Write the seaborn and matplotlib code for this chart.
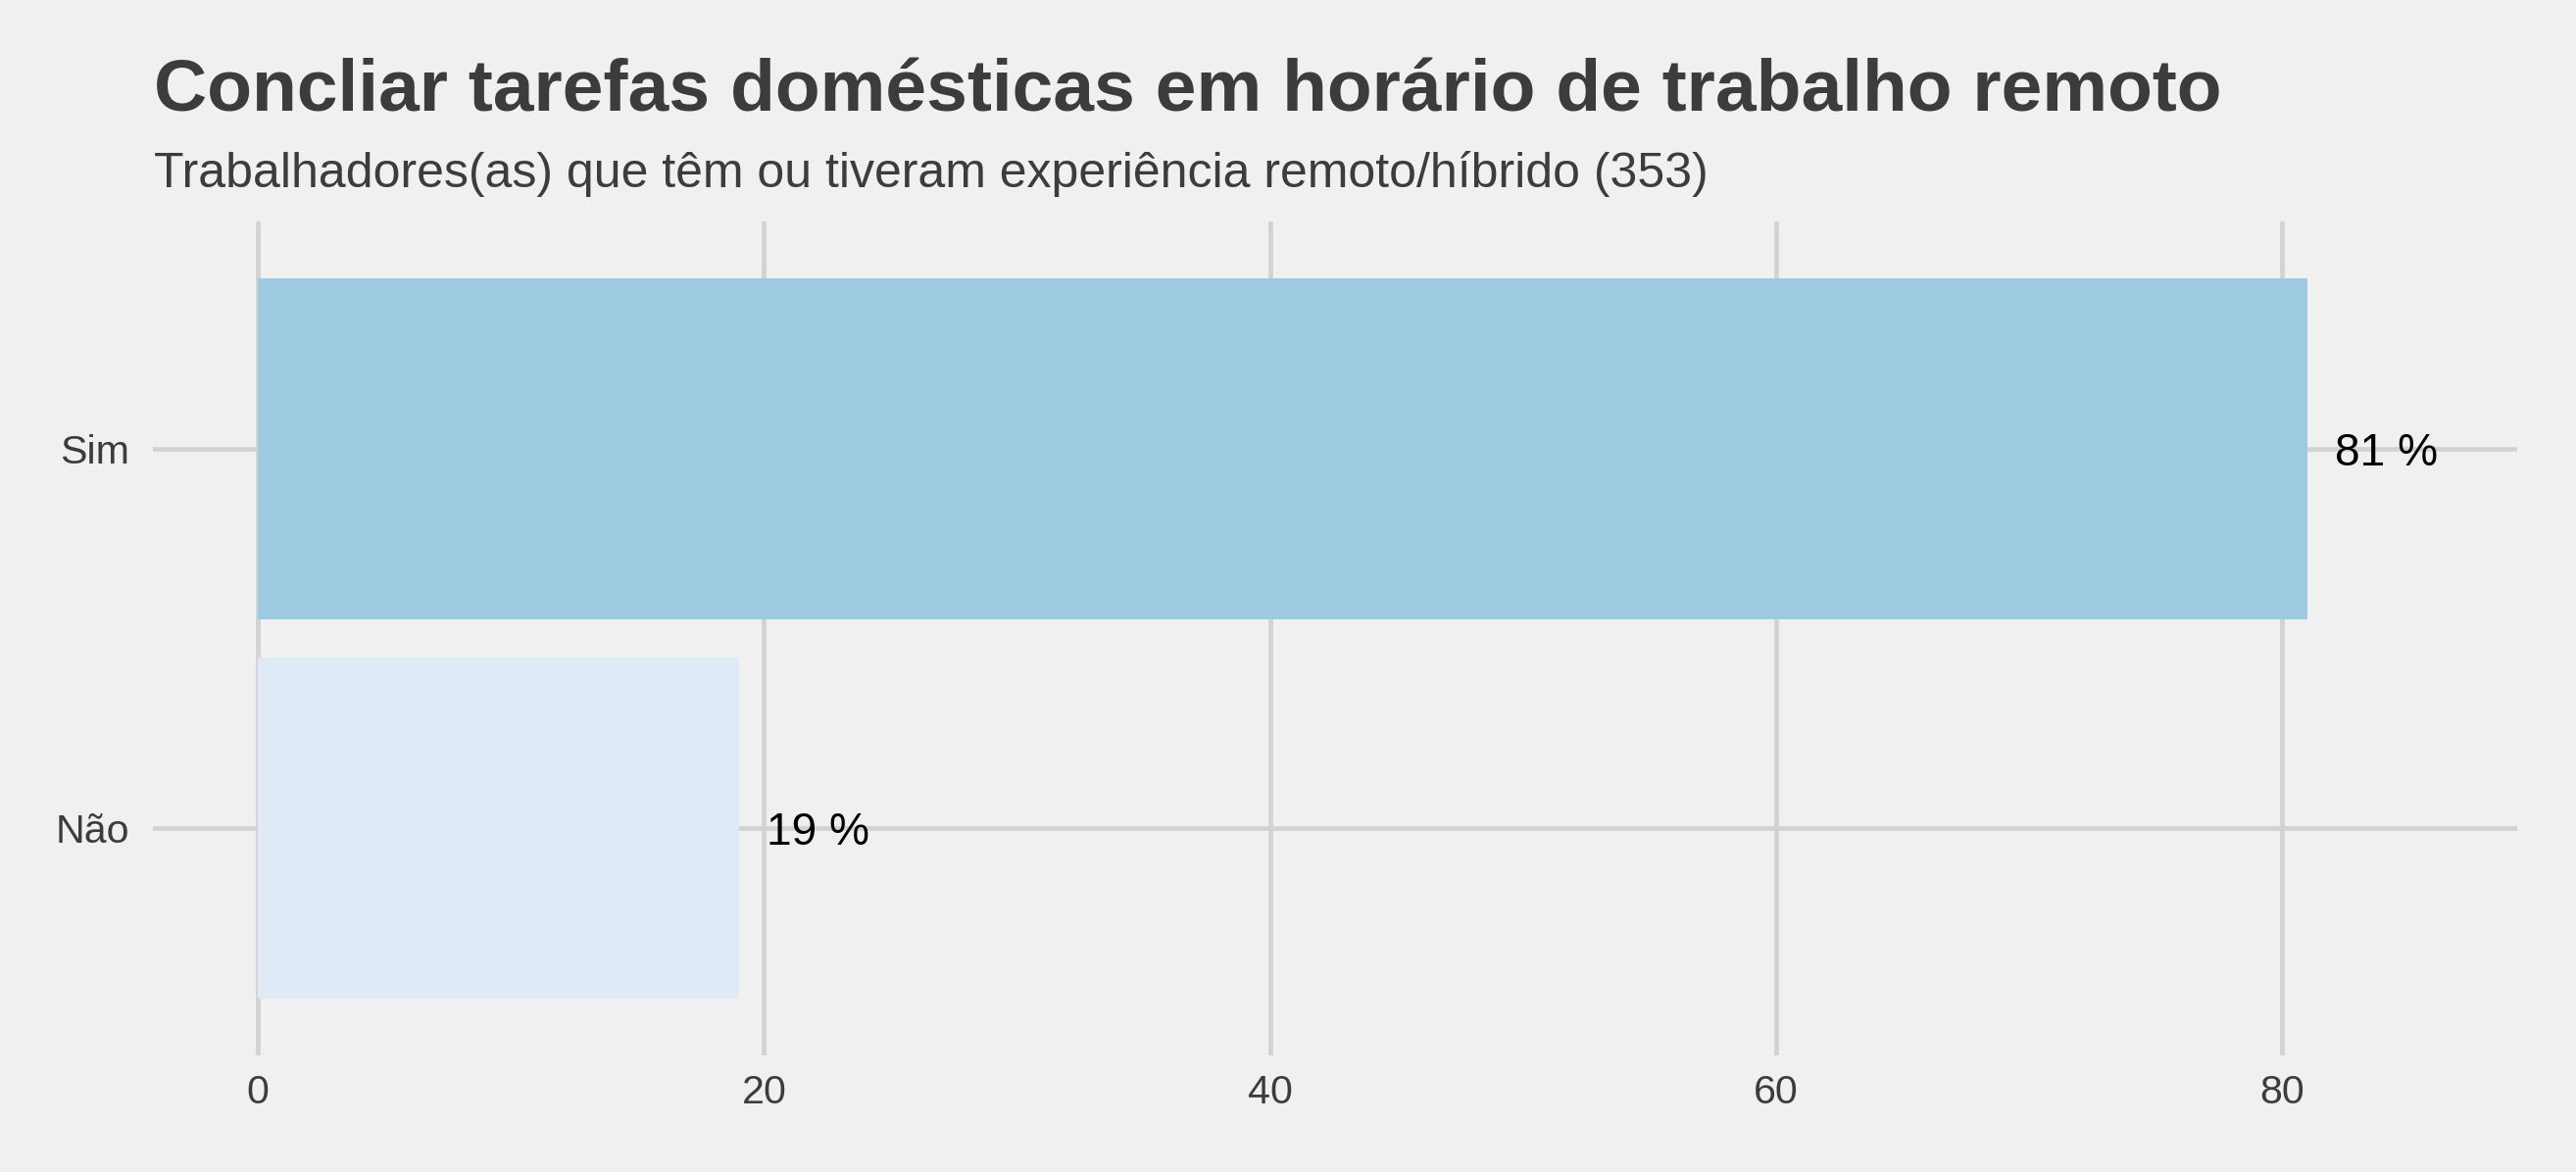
import matplotlib
matplotlib.use("Agg")
import matplotlib.pyplot as plt
import seaborn as sns
import pandas as pd

categories = ["Sim", "Não"]
values = [81, 19]
labels = ["81 %", "19 %"]
colors = ["#9ECAE1", "#DEEBF7"]
xticks = [0, 20, 40, 60, 80]

title = "Concliar tarefas domésticas em horário de trabalho remoto"
subtitle = "Trabalhadores(as) que têm ou tiveram experiência remoto/híbrido (353)"

sns.set_theme(style="white")
plt.rcParams["font.family"] = ["Liberation Sans", "DejaVu Sans"]

BG = "#F0F0F0"
GRID = "#D2D2D2"
TXT = "#3C3C3C"

df = pd.DataFrame({"cat": categories, "val": values})

fig = plt.figure(figsize=(13.1402, 5.9802), dpi=200, facecolor=BG)
ax = fig.add_axes([0.05936, 0.0995, 0.97717 - 0.05936, 0.81104 - 0.0995])
ax.set_facecolor(BG)

sns.barplot(data=df, x="val", y="cat", hue="cat", palette=colors, order=categories,
            hue_order=categories, orient="h", width=0.9, linewidth=0, legend=False, ax=ax,
            saturation=1, zorder=2)

for i, (v, lab) in enumerate(zip(values, labels)):
    ax.text(v + 1.1, i, lab, ha="left", va="center_baseline", fontsize=16.6,
            color="black", zorder=3)

ax.set_xlim(-4.15, 89.3)
ax.set_ylim(1.6, -0.6)
ax.set_xticks(xticks)
ax.set_xticklabels([str(t) for t in xticks])
ax.set_xlabel("")
ax.set_ylabel("")
ax.grid(True, axis="both", color=GRID, linewidth=1.7, zorder=0)
ax.set_axisbelow(True)
for s in ax.spines.values():
    s.set_visible(False)
ax.tick_params(axis="both", length=0, labelsize=14.8, labelcolor=TXT)
ax.tick_params(axis="y", pad=8.6)
ax.tick_params(axis="x", pad=7.0)

fig.text(157 / 2628, 1 - 113 / 1196, title, fontsize=27.0, fontweight="bold",
         color=TXT, ha="left", va="baseline")
fig.text(157 / 2628, 1 - 191 / 1196, subtitle, fontsize=18.0,
         color=TXT, ha="left", va="baseline")

fig.savefig("out.png", dpi=200, facecolor=BG)
